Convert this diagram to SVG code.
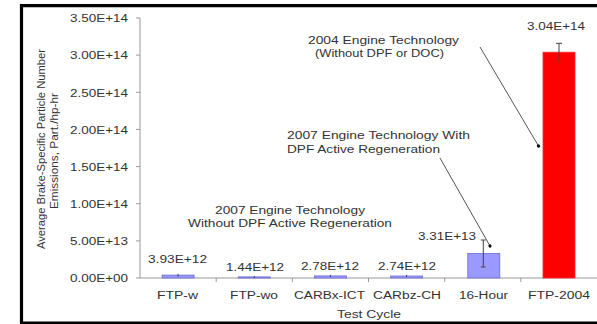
<svg xmlns="http://www.w3.org/2000/svg" width="597" height="324" viewBox="0 0 597 324">
  <defs>
    <style>
      text { font-family: "Liberation Sans", Arial, sans-serif; font-size: 11.7px; fill: #333; }
      .axis { stroke: #999; stroke-width: 1; fill: none; }
      .bar { fill: #9999ff; stroke: #6b6bd6; stroke-width: 0.8; }
      .red { fill: #ff0000; stroke: #f03030; stroke-width: 0.8; }
      .err { stroke: #444; stroke-width: 1; fill: none; }
      .lead { stroke: #555; stroke-width: 1; fill: none; marker-end: url(#dot); }
    </style>
    <marker id="dot" viewBox="0 0 4 4" refX="2" refY="2" markerWidth="4" markerHeight="4" markerUnits="userSpaceOnUse" orient="auto">
      <circle cx="2" cy="2" r="1.6" fill="#111"/>
    </marker>
  </defs>
  <rect width="597" height="324" fill="#ffffff"/>
  <path id="frame" d="M597 5.7 H21.5 V323 H597" stroke="#000" stroke-width="3.2" fill="none"/>

  <g id="y-axis">
    <path class="axis" d="M140 18 V278 M136 18 H140 M136 55.1 H140 M136 92.3 H140 M136 129.4 H140 M136 166.6 H140 M136 203.7 H140 M136 240.9 H140 M136 278 H140"/>
    <text x="70" y="22.2" textLength="58" lengthAdjust="spacingAndGlyphs">3.50E+14</text>
    <text x="70" y="59.3" textLength="58" lengthAdjust="spacingAndGlyphs">3.00E+14</text>
    <text x="70" y="96.5" textLength="58" lengthAdjust="spacingAndGlyphs">2.50E+14</text>
    <text x="70" y="133.6" textLength="58" lengthAdjust="spacingAndGlyphs">2.00E+14</text>
    <text x="70" y="170.8" textLength="58" lengthAdjust="spacingAndGlyphs">1.50E+14</text>
    <text x="70" y="207.9" textLength="58" lengthAdjust="spacingAndGlyphs">1.00E+14</text>
    <text x="70" y="245.1" textLength="58" lengthAdjust="spacingAndGlyphs">5.00E+13</text>
    <text x="70" y="282.2" textLength="58" lengthAdjust="spacingAndGlyphs">0.00E+00</text>
    <text transform="translate(44.5,149) rotate(-90)" x="-100" y="0" textLength="200" lengthAdjust="spacingAndGlyphs" style="font-size:11.5px">Average Brake-Specific Particle Number</text>
    <text transform="translate(57.5,151) rotate(-90)" x="-58" y="0" textLength="116" lengthAdjust="spacingAndGlyphs" style="font-size:11.5px">Emissions, Part./hp-hr</text>
  </g>

  <g id="x-axis">
    <path class="axis" d="M140 278 H597 M216.2 278 V282 M292.3 278 V282 M368.5 278 V282 M444.7 278 V282 M520.8 278 V282"/>
    <text x="157" y="299" textLength="41" lengthAdjust="spacingAndGlyphs">FTP-w</text>
    <text x="230" y="299" textLength="48" lengthAdjust="spacingAndGlyphs">FTP-wo</text>
    <text x="294" y="299" textLength="71" lengthAdjust="spacingAndGlyphs">CARBx-ICT</text>
    <text x="373" y="299" textLength="68" lengthAdjust="spacingAndGlyphs">CARbz-CH</text>
    <text x="459" y="299" textLength="49" lengthAdjust="spacingAndGlyphs">16-Hour</text>
    <text x="528" y="299" textLength="62" lengthAdjust="spacingAndGlyphs">FTP-2004</text>
    <text x="337" y="318" textLength="64" lengthAdjust="spacingAndGlyphs">Test Cycle</text>
  </g>

  <g id="bar-ftp-w">
    <rect class="bar" x="162.1" y="275.1" width="32" height="2.9"/>
    <path class="err" d="M178.1 273.8 V276.6"/>
    <text x="148" y="263" textLength="59" lengthAdjust="spacingAndGlyphs">3.93E+12</text>
  </g>
  <g id="bar-ftp-wo">
    <rect class="bar" x="238.3" y="276.9" width="32" height="1.1"/>
    <path class="err" d="M254.3 276 V278"/>
    <text x="226" y="271" textLength="58" lengthAdjust="spacingAndGlyphs">1.44E+12</text>
  </g>
  <g id="bar-carbx-ict">
    <rect class="bar" x="314.4" y="275.9" width="32" height="2.1"/>
    <path class="err" d="M330.4 274.8 V277"/>
    <text x="301" y="270" textLength="58" lengthAdjust="spacingAndGlyphs">2.78E+12</text>
  </g>
  <g id="bar-carbz-ch">
    <rect class="bar" x="390.6" y="276" width="32" height="2"/>
    <path class="err" d="M406.6 274.9 V277"/>
    <text x="378" y="270" textLength="58" lengthAdjust="spacingAndGlyphs">2.74E+12</text>
  </g>
  <g id="bar-16-hour">
    <rect class="bar" x="467.8" y="253.4" width="32" height="24.6"/>
    <path class="err" d="M483.3 240 V267 M480.8 240 H485.8 M480.8 267 H485.8"/>
    <text x="418" y="240" textLength="58" lengthAdjust="spacingAndGlyphs">3.31E+13</text>
  </g>
  <g id="bar-ftp-2004">
    <rect class="red" x="543" y="52.2" width="32" height="225.8"/>
    <path class="err" d="M559 43.3 V62 M556 43.3 H562"/>
    <text x="527" y="30" textLength="58" lengthAdjust="spacingAndGlyphs">3.04E+14</text>
  </g>

  <g id="note-2004">
    <text x="308" y="43.5" textLength="151" lengthAdjust="spacingAndGlyphs">2004 Engine Technology</text>
    <text x="315" y="57" textLength="129" lengthAdjust="spacingAndGlyphs">(Without DPF or DOC)</text>
  </g>
  <g id="note-2007-regen">
    <text x="287" y="139" textLength="183" lengthAdjust="spacingAndGlyphs">2007 Engine Technology With</text>
    <text x="287" y="152.5" textLength="153" lengthAdjust="spacingAndGlyphs">DPF Active Regeneration</text>
  </g>
  <g id="note-2007-noregen">
    <text x="215" y="214" textLength="150" lengthAdjust="spacingAndGlyphs">2007 Engine Technology</text>
    <text x="188" y="227" textLength="204" lengthAdjust="spacingAndGlyphs">Without DPF Active Regeneration</text>
  </g>

  <g id="connectors">
    <path class="lead" d="M480 47 L538.5 146"/>
    <path class="lead" d="M440 158 L490 246"/>
  </g>
</svg>
